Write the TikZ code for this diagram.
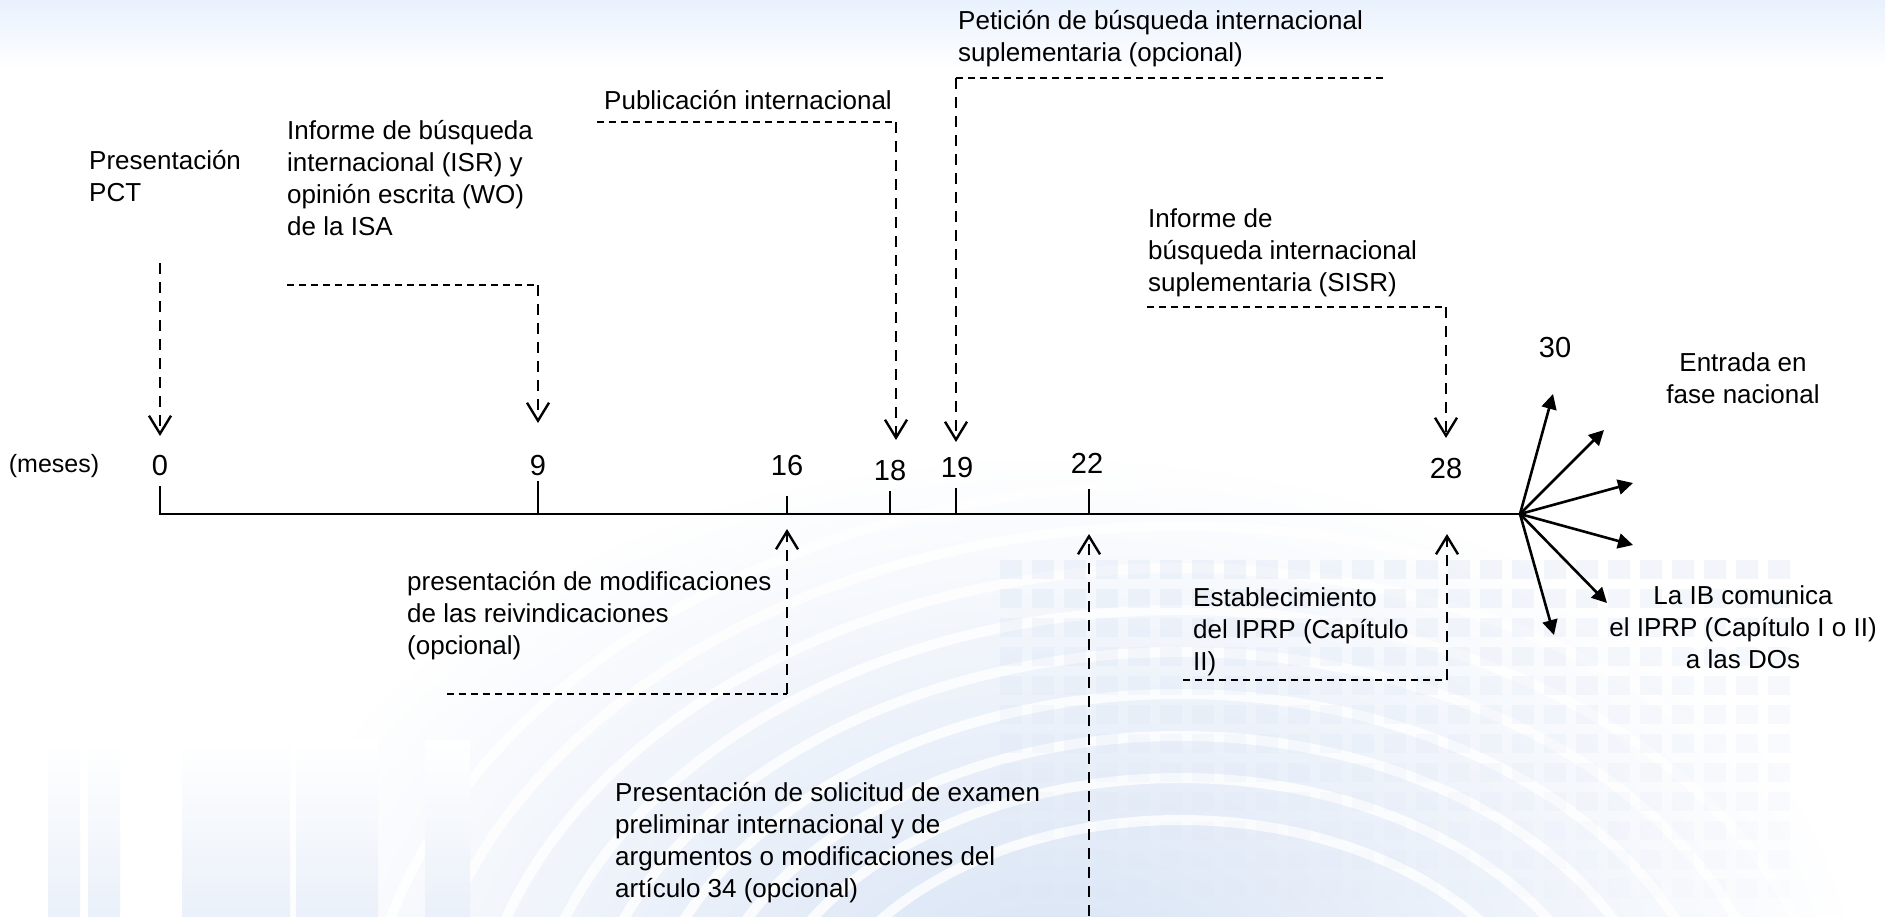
\documentclass[tikz,border=0pt]{standalone}
\usepackage{fontspec}
\setmainfont{Liberation Sans}
\usetikzlibrary{arrows.meta}
\definecolor{topblue}{RGB}{232,241,253}
\definecolor{bgblue}{RGB}{214,226,244}
\newlength{\lw}
\setlength{\lw}{1.2pt}
\tikzstyle{every picture}+=[x=0.5pt,y=-0.5pt]
\tikzstyle{every picture}+=[>={Straight Barb[length=9pt,width=11pt]}]
\tikzstyle{every picture}+=[line width=\lw]
\tikzstyle{note}=[inner sep=0pt,align=left,anchor=west,font=\fontsize{13pt}{16pt}\selectfont]
\tikzstyle{mlabel}=[inner sep=0pt,font=\fontsize{14.5pt}{16pt}\selectfont]
\tikzstyle{hdash}=[dash pattern=on 3.5pt off 2.5pt]
\tikzstyle{vdash}=[dash pattern=on 5.5pt off 4pt]
\tikzstyle{fan}=[line width=1.3pt,-{Triangle[length=7.5pt,width=7.5pt]}]

\begin{document}
\begin{tikzpicture}
\useasboundingbox (0,0) rectangle (1885,916);

% background of the slide
\begin{scope}
\clip (0,0) rectangle (1885,916);
\fill[white] (0,0) rectangle (1885,916);
\shade[top color=topblue,bottom color=white] (0,0) rectangle (1885,70);
\shade[inner color=bgblue,outer color=white] (1050,1010) ellipse (820 and 560);
\foreach \r in {0,...,8}
  \draw[white,line width=5pt,opacity=.8] (1180,1080) ellipse ({380+55*\r} and {260+42*\r});
\foreach \i in {0,...,24}
  \foreach \j in {0,...,11}
    \fill[bgblue,opacity={.3-.022*\j}] ({1000+32*\i},{560+29*\j}) rectangle +(22,19);
\foreach \a/\b in {48/80,88/120,182/290,296/378,425/470}
  \shade[top color=white,bottom color=bgblue!50] (\a,740) rectangle (\b,916);
\end{scope}

% time axis
\coordinate (top0) at (160,486);
\coordinate (a0) at (160,514);
\coordinate (hub) at (1520,514);
\draw[line width=1.4pt] (top0) -- (a0) -- (hub);
\foreach \x/\t in {538/481,787/496,890/491,956/488,1089/489}
  \draw (\x,\t) -- (\x,514);

\draw (54,466) node[inner sep=0pt,font=\fontsize{12.5pt}{15pt}\selectfont] (meses) {(meses)};
\draw (160,466) node[mlabel] (n0) {0};
\draw (538,466) node[mlabel] (n9) {9};
\draw (787,466) node[mlabel] (n16) {16};
\draw (890,471) node[mlabel] (n18) {18};
\draw (957,468) node[mlabel] (n19) {19};
\draw (1087,463) node[mlabel] (n22) {22};
\draw (1446,469) node[mlabel] (n28) {28};
\draw (1555,348) node[mlabel] (n30) {30};

% events above the axis
\draw (88,176) node[note] (pct) {Presentación\\PCT};
\draw (286,178) node[note] (isr) {Informe de búsqueda\\internacional (ISR) y\\opinión escrita (WO)\\de la ISA};
\draw (603,100) node[note] (pub) {Publicación internacional};
\draw (957,39) node[note] (sisreq) {Petición de búsqueda internacional\\suplementaria (opcional)};
\draw (1147,253) node[note] (sisr) {Informe de\\búsqueda internacional\\suplementaria (SISR)};

\coordinate (pctS) at (160,263);
\coordinate (pctT) at (160,436);
\draw[vdash,->] (pctS) -- (pctT);

\coordinate (isrS) at (287,285);
\coordinate (isrC) at (538,285);
\coordinate (isrT) at (538,423);
\draw[hdash] (isrS) -- (isrC);
\draw[vdash,->] (isrC) -- (isrT);

\coordinate (pubS) at (597,122);
\coordinate (pubC) at (896,122);
\coordinate (pubT) at (896,440);
\draw[hdash] (pubS) -- (pubC);
\draw[vdash,->] (pubC) -- (pubT);

\coordinate (sisreqS) at (1383,78);
\coordinate (sisreqC) at (956,78);
\coordinate (sisreqT) at (956,442);
\draw[hdash] (sisreqS) -- (sisreqC);
\draw[vdash,->] (sisreqC) -- (sisreqT);

\coordinate (sisrS) at (1147,307);
\coordinate (sisrC) at (1446,307);
\coordinate (sisrT) at (1446,438);
\draw[hdash] (sisrS) -- (sisrC);
\draw[vdash,->] (sisrC) -- (sisrT);

% events below the axis
\draw (406,616) node[note] (amend) {presentación de modificaciones\\de las reivindicaciones\\(opcional)};
\draw (614,843) node[note] (demand) {Presentación de solicitud de examen\\preliminar internacional y de\\argumentos o modificaciones del\\artículo 34 (opcional)};
\draw (1192,632) node[note] (iprp) {Establecimiento\\del IPRP (Capítulo\\II)};

\coordinate (amendS) at (447,694);
\coordinate (amendC) at (787,694);
\coordinate (amendT) at (787,529);
\draw[hdash] (amendS) -- (amendC);
\draw[vdash,->] (amendC) -- (amendT);

\coordinate (demandS) at (1089,916);
\coordinate (demandT) at (1089,534);
\draw[vdash,->] (demandS) -- (demandT);

\coordinate (iprpS) at (1183,680);
\coordinate (iprpC) at (1447,680);
\coordinate (iprpT) at (1447,534);
\draw[hdash] (iprpS) -- (iprpC);
\draw[vdash,->] (iprpC) -- (iprpT);

% national phase
\draw (1743,378) node[note,anchor=center,align=center] (natl) {Entrada en\\fase nacional};
\draw (1743,627) node[note,anchor=center,align=center] (comm) {La IB comunica\\el IPRP (Capítulo I o II)\\a las DOs};
\foreach \i/\x/\y in {1/1553/394,2/1604/430,3/1633/483,4/1633/545,5/1607/603,6/1554/635}{
  \coordinate (f\i) at (\x,\y);
  \draw[fan] (hub) -- (f\i);
}
\end{tikzpicture}
\end{document}
